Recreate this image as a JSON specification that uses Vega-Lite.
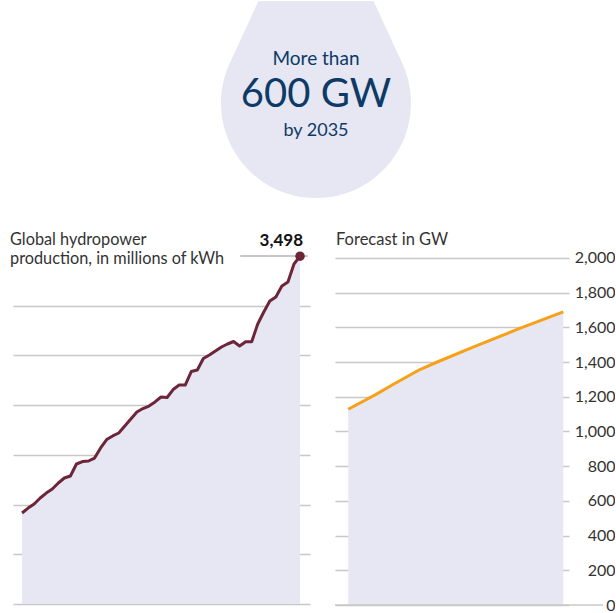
{
  "$schema": "https://vega.github.io/schema/vega-lite/v6.json",
  "padding": {"left": 10, "top": 0, "right": 0, "bottom": 0},
  "bounds": "flush",
  "spacing": 0,
  "config": {
    "view": {"stroke": null},
    "font": "Lato",
    "axis": {"domain": false}
  },
  "vconcat": [
    {
      "width": 600,
      "height": 255,
      "data": {"values": [{"target_gw": 600, "year": 2035}]},
      "layer": [
        {
          "mark": {
            "type": "point",
            "shape": "M-0.606,-1.074L0.606,-1.074L0.908,-0.418A1,1,0,1,1,-0.908,-0.418Z",
            "filled": true,
            "opacity": 1,
            "size": 36100,
            "color": "#e6e7f3",
            "strokeWidth": 0
          },
          "encoding": {
            "x": {"datum": 303, "type": "quantitative", "scale": {"domain": [0, 600], "nice": false}, "axis": null},
            "y": {"datum": 102, "type": "quantitative", "scale": {"domain": [0, 255], "nice": false, "reverse": true}, "axis": null}
          }
        },
        {
          "mark": {"type": "text", "align": "center", "baseline": "alphabetic", "fontSize": 19, "color": "#0d3a66"},
          "encoding": {
            "x": {"datum": 303, "type": "quantitative", "axis": null},
            "y": {"datum": 64, "type": "quantitative", "axis": null},
            "text": {"value": "More than"}
          }
        },
        {
          "mark": {"type": "text", "align": "center", "baseline": "alphabetic", "fontSize": 40, "color": "#0d3a66"},
          "encoding": {
            "x": {"datum": 303, "type": "quantitative", "axis": null},
            "y": {"datum": 106, "type": "quantitative", "axis": null},
            "text": {"value": "600 GW"}
          }
        },
        {
          "mark": {"type": "text", "align": "center", "baseline": "alphabetic", "fontSize": 18, "color": "#0d3a66"},
          "encoding": {
            "x": {"datum": 303, "type": "quantitative", "axis": null},
            "y": {"datum": 135, "type": "quantitative", "axis": null},
            "text": {"value": "by 2035"}
          }
        }
      ]
    },
    {
      "bounds": "flush",
      "spacing": 25,
      "hconcat": [
        {
          "width": 297,
          "height": 348,
          "layer": [
            {
              "data": {"name": "hydro"},
              "mark": {"type": "area", "color": "#e6e7f3"},
              "encoding": {
                "x": {"field": "year", "type": "quantitative", "scale": {"domain": [1963.5, 2012.65], "nice": false, "zero": false}, "axis": null},
                "y": {
                  "field": "twh", "type": "quantitative",
                  "scale": {"domain": [0, 3500], "nice": false},
                  "axis": {
                    "values": [0, 500, 1000, 1500, 2000, 2500, 3000],
                    "grid": true, "gridColor": "#c8c8c8", "gridWidth": 1.5,
                    "labels": false, "ticks": false, "domain": false, "title": null
                  }
                }
              }
            },
            {
              "data": {"name": "hydro"},
              "mark": {"type": "line", "color": "#6d2638", "strokeWidth": 3, "strokeJoin": "round"},
              "encoding": {
                "x": {"field": "year", "type": "quantitative", "axis": null},
                "y": {"field": "twh", "type": "quantitative"}
              }
            },
            {
              "data": {"values": [{"note": "leader"}]},
              "mark": {"type": "rule", "color": "#b4b4b4", "strokeWidth": 1.5},
              "encoding": {
                "x": {"datum": 2001.1, "type": "quantitative", "axis": null},
                "x2": {"datum": 2012.3},
                "y": {"datum": 3500, "type": "quantitative"}
              }
            },
            {
              "data": {"name": "hydro"},
              "transform": [{"filter": "datum.year == 2011"}],
              "mark": {"type": "point", "filled": true, "opacity": 1, "size": 90, "color": "#6d2638"},
              "encoding": {
                "x": {"field": "year", "type": "quantitative", "axis": null},
                "y": {"field": "twh", "type": "quantitative"}
              }
            },
            {
              "data": {"name": "hydro"},
              "transform": [{"filter": "datum.year == 2011"}],
              "mark": {"type": "text", "align": "right", "baseline": "alphabetic", "dx": 3, "dy": -10, "fontSize": 17, "letterSpacing": 1.5, "fontWeight": "bold", "color": "#111111"},
              "encoding": {
                "x": {"field": "year", "type": "quantitative", "axis": null},
                "y": {"field": "twh", "type": "quantitative"},
                "text": {"field": "twh", "type": "quantitative", "format": ",.0f"}
              }
            },
            {
              "data": {"values": [{"title": "Global hydropower"}]},
              "mark": {"type": "text", "align": "left", "baseline": "alphabetic", "dx": -3, "fontSize": 16.3, "lineHeight": 18.5, "color": "#333333"},
              "encoding": {
                "x": {"datum": 1963.5, "type": "quantitative", "axis": null},
                "y": {"datum": 3610, "type": "quantitative"},
                "text": {"value": ["Global hydropower", "production, in millions of kWh"]}
              }
            }
          ]
        },
        {
          "width": 234,
          "height": 349,
          "layer": [
            {
              "data": {"name": "forecast"},
              "mark": {"type": "area", "color": "#e6e7f3"},
              "encoding": {
                "x": {"field": "year", "type": "quantitative", "scale": {"domain": [2009.52, 2035.64], "nice": false, "zero": false}, "axis": null},
                "y": {
                  "field": "gw", "type": "quantitative",
                  "scale": {"domain": [0, 2011.5], "nice": false},
                  "axis": {
                    "orient": "right",
                    "values": [0, 200, 400, 600, 800, 1000, 1200, 1400, 1600, 1800, 2000],
                    "format": ",.0f",
                    "grid": true, "gridColor": "#c8c8c8", "gridWidth": 1.5,
                    "ticks": false, "tickSize": 0, "domain": false, "title": null,
                    "labelAlign": "right", "labelPadding": 46, "labelBaseline": "middle",
                    "labelFontSize": 16, "labelColor": "#333333", "labelFont": "Lato",
                    "labelOverlap": false, "labelFlush": false, "labelBound": false
                  }
                }
              }
            },
            {
              "data": {"name": "forecast"},
              "mark": {"type": "line", "color": "#f7a11a", "strokeWidth": 3, "strokeJoin": "round"},
              "encoding": {
                "x": {"field": "year", "type": "quantitative", "axis": null},
                "y": {
                  "field": "gw", "type": "quantitative",
                  "axis": {
                    "orient": "right",
                    "values": [0, 200, 400, 600, 800, 1000, 1200, 1400, 1600, 1800, 2000],
                    "format": ",.0f",
                    "grid": true, "gridColor": "#c8c8c8", "gridWidth": 1.5,
                    "ticks": false, "tickSize": 0, "domain": false, "title": null,
                    "labelAlign": "right", "labelPadding": 46, "labelBaseline": "middle",
                    "labelFontSize": 16, "labelColor": "#333333", "labelFont": "Lato",
                    "labelOverlap": false, "labelFlush": false, "labelBound": false
                  }
                }
              }
            },
            {
              "data": {"values": [{"note": "baseline"}]},
              "mark": {"type": "rule", "color": "#c8c8c8", "strokeWidth": 1.5},
              "encoding": {
                "x": {"datum": 2009.52, "type": "quantitative", "axis": null},
                "x2": {"datum": 2039.43},
                "y": {
                  "datum": 0, "type": "quantitative",
                  "axis": {
                    "orient": "right",
                    "values": [0, 200, 400, 600, 800, 1000, 1200, 1400, 1600, 1800, 2000],
                    "format": ",.0f",
                    "grid": true, "gridColor": "#c8c8c8", "gridWidth": 1.5,
                    "ticks": false, "tickSize": 0, "domain": false, "title": null,
                    "labelAlign": "right", "labelPadding": 46, "labelBaseline": "middle",
                    "labelFontSize": 16, "labelColor": "#333333", "labelFont": "Lato",
                    "labelOverlap": false, "labelFlush": false, "labelBound": false
                  }
                }
              }
            },
            {
              "data": {"values": [{"title": "Forecast in GW"}]},
              "mark": {"type": "text", "align": "left", "baseline": "alphabetic", "dx": 1, "fontSize": 16.5, "color": "#333333"},
              "encoding": {
                "x": {"datum": 2009.52, "type": "quantitative", "axis": null},
                "y": {
                  "datum": 2075, "type": "quantitative",
                  "axis": {
                    "orient": "right",
                    "values": [0, 200, 400, 600, 800, 1000, 1200, 1400, 1600, 1800, 2000],
                    "format": ",.0f",
                    "grid": true, "gridColor": "#c8c8c8", "gridWidth": 1.5,
                    "ticks": false, "tickSize": 0, "domain": false, "title": null,
                    "labelAlign": "right", "labelPadding": 46, "labelBaseline": "middle",
                    "labelFontSize": 16, "labelColor": "#333333", "labelFont": "Lato",
                    "labelOverlap": false, "labelFlush": false, "labelBound": false
                  }
                },
                "text": {"field": "title", "type": "nominal"}
              }
            }
          ]
        }
      ]
    }
  ],
  "datasets": {
    "hydro": [
      {"year": 1965, "twh": 915}, {"year": 1966, "twh": 965}, {"year": 1967, "twh": 1006},
      {"year": 1968, "twh": 1066}, {"year": 1969, "twh": 1116}, {"year": 1970, "twh": 1157},
      {"year": 1971, "twh": 1217}, {"year": 1972, "twh": 1267}, {"year": 1973, "twh": 1287},
      {"year": 1974, "twh": 1408}, {"year": 1975, "twh": 1433}, {"year": 1976, "twh": 1438},
      {"year": 1977, "twh": 1468}, {"year": 1978, "twh": 1569}, {"year": 1979, "twh": 1654},
      {"year": 1980, "twh": 1690}, {"year": 1981, "twh": 1720}, {"year": 1982, "twh": 1790},
      {"year": 1983, "twh": 1861}, {"year": 1984, "twh": 1931}, {"year": 1985, "twh": 1966},
      {"year": 1986, "twh": 1991}, {"year": 1987, "twh": 2032}, {"year": 1988, "twh": 2082},
      {"year": 1989, "twh": 2077}, {"year": 1990, "twh": 2157}, {"year": 1991, "twh": 2202},
      {"year": 1992, "twh": 2202}, {"year": 1993, "twh": 2338}, {"year": 1994, "twh": 2353},
      {"year": 1995, "twh": 2469}, {"year": 1996, "twh": 2504}, {"year": 1997, "twh": 2544},
      {"year": 1998, "twh": 2585}, {"year": 1999, "twh": 2615}, {"year": 2000, "twh": 2640},
      {"year": 2001, "twh": 2595}, {"year": 2002, "twh": 2638}, {"year": 2003, "twh": 2638},
      {"year": 2004, "twh": 2816}, {"year": 2005, "twh": 2937}, {"year": 2006, "twh": 3047},
      {"year": 2007, "twh": 3088}, {"year": 2008, "twh": 3198}, {"year": 2009, "twh": 3238},
      {"year": 2010, "twh": 3420}, {"year": 2011, "twh": 3498}
    ],
    "forecast": [
      {"year": 2011, "gw": 1128}, {"year": 2014, "gw": 1211}, {"year": 2016, "gw": 1271},
      {"year": 2019, "gw": 1357}, {"year": 2021, "gw": 1402}, {"year": 2025, "gw": 1488},
      {"year": 2030, "gw": 1591}, {"year": 2035, "gw": 1689}
    ]
  }
}
